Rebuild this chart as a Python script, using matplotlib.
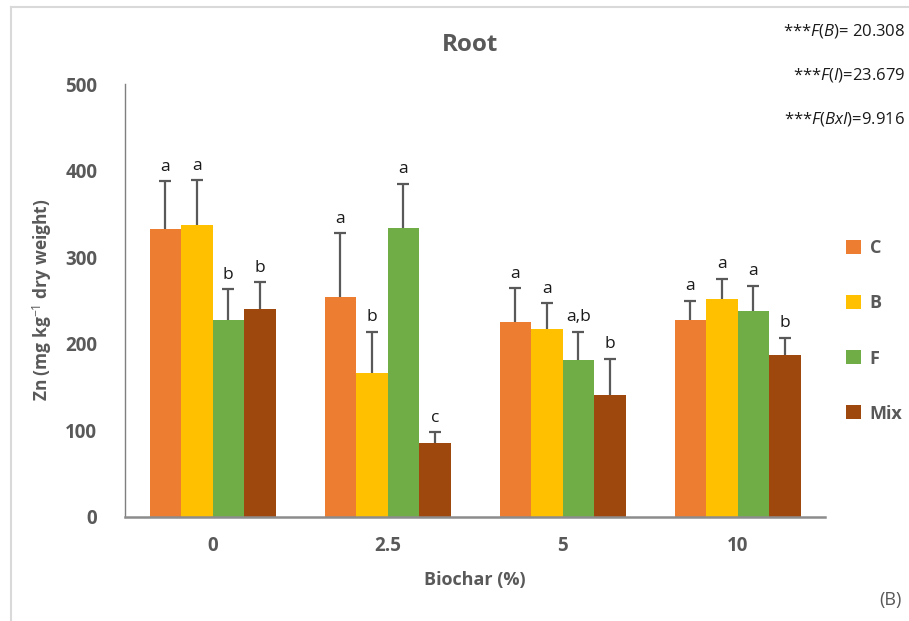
import matplotlib
matplotlib.use("Agg")
import matplotlib.pyplot as plt
import numpy as np
from matplotlib.lines import Line2D
from matplotlib.patches import Patch

plt.rcParams['font.family'] = ['Open Sans', 'DejaVu Sans']
plt.rcParams['mathtext.fontset'] = 'custom'
plt.rcParams['mathtext.rm'] = 'Open Sans'
plt.rcParams['mathtext.it'] = 'Open Sans:italic'

categories = ["0", "2.5", "5", "10"]
series = ["C", "B", "F", "Mix"]
C_vals = [332, 254, 225, 227]
B_vals = [337, 166, 217, 252]
F_vals = [227, 334, 181, 238]
Mix_vals = [240, 85, 141, 187]
C_err = [56, 74, 39, 23]
B_err = [52, 48, 30, 23]
F_err = [36, 51, 33, 29]
Mix_err = [31, 13, 42, 20]
C_lbl = ["a", "a", "a", "a"]
B_lbl = ["a", "b", "a", "a"]
F_lbl = ["b", "a", "a,b", "a"]
Mix_lbl = ["b", "c", "b", "b"]
colors = ["#ED7D31", "#FFC000", "#70AD47", "#9E480E"]

vals = [C_vals, B_vals, F_vals, Mix_vals]
errs = [C_err, B_err, F_err, Mix_err]
lbls = [C_lbl, B_lbl, F_lbl, Mix_lbl]

W, H = 909, 621
fig = plt.figure(figsize=(W / 100, H / 100), dpi=100)
ax = fig.add_axes([125 / W, (H - 517) / H, 700 / W, 433 / H])

grey = "#595959"
x = np.arange(len(categories))
bw = 0.18
for i, s in enumerate(series):
    pos = x + (i - 1.5) * bw
    v = np.array(vals[i])
    e = np.array(errs[i])
    ax.bar(pos, v, width=bw, color=colors[i], label=s, zorder=2)
    ax.vlines(pos, v, v + e, colors=grey, linewidth=1.6, zorder=3)
    ax.plot(pos, v + e, linestyle="none", marker="_", markersize=9,
            markeredgewidth=1.6, color=grey, zorder=3)
    for j in range(len(x)):
        ax.annotate(lbls[i][j], (pos[j], v[j] + e[j]),
                    xytext=(0, 7.5), textcoords="offset points",
                    ha="center", va="baseline", fontsize=12.5, color="#1a1a1a")

ax.set_xlim(-0.5, 3.5)
ax.set_ylim(0, 500)
ax.set_yticks([0, 100, 200, 300, 400, 500])
ax.set_xticks(x)
ax.set_xticklabels(categories)
ax.tick_params(axis="both", length=0, labelsize=13.5, labelcolor=grey)
ax.tick_params(axis="x", pad=14)
ax.tick_params(axis="y", pad=20)
for lab in ax.get_xticklabels() + ax.get_yticklabels():
    lab.set_fontweight("bold")
for sp in ["top", "right"]:
    ax.spines[sp].set_visible(False)
ax.spines["left"].set_color("#7f7f7f")
ax.spines["left"].set_linewidth(1.0)
ax.spines["bottom"].set_color("#8c8c8c")
ax.spines["bottom"].set_linewidth(1.8)

fig.text(42 / W, 1 - 300 / H, r"Zn (mg kg$^{-1}$ dry weight)", rotation=90,
         ha="center", va="center", fontsize=12.5, color=grey, fontweight="bold")
fig.text(475 / W, 1 - 580 / H, "Biochar (%)", ha="center", va="center",
         fontsize=13, color=grey, fontweight="bold")
fig.text(470 / W, 1 - 45 / H, "Root", ha="center", va="center",
         fontsize=17.5, color=grey, fontweight="bold")
fig.text(902 / W, 1 - 600 / H, "(B)", ha="right", va="center",
         fontsize=13, color=grey)

fig.text(905 / W, 1 - 31 / H, r"***$\mathit{F(B)}$= 20.308", ha="right", va="center",
         fontsize=12, color="#1a1a1a")
fig.text(905 / W, 1 - 75 / H, r"***$\mathit{F(I)}$=23.679", ha="right", va="center",
         fontsize=12, color="#1a1a1a")
fig.text(905 / W, 1 - 119 / H, r"***$\mathit{F(BxI)}$=9.916", ha="right", va="center",
         fontsize=12, color="#1a1a1a")

# legend
handles = [Patch(facecolor=c, edgecolor="none") for c in colors]
leg = fig.legend(handles, series, loc="center left",
                 bbox_to_anchor=(830 / W, 1 - 331 / H), frameon=False,
                 prop={"size": 13, "weight": "bold"}, labelcolor=grey,
                 handlelength=0.8, handleheight=0.8, handletextpad=0.5,
                 labelspacing=2.05)

# chart border lines
fig.add_artist(Line2D([11 / W, 11 / W], [0, 1 - 7 / H], transform=fig.transFigure,
                      color="#d9d9d9", linewidth=1.5))
fig.add_artist(Line2D([11 / W, 1], [1 - 7 / H, 1 - 7 / H], transform=fig.transFigure,
                      color="#d9d9d9", linewidth=1.5))

fig.savefig("out.png", dpi=100)
